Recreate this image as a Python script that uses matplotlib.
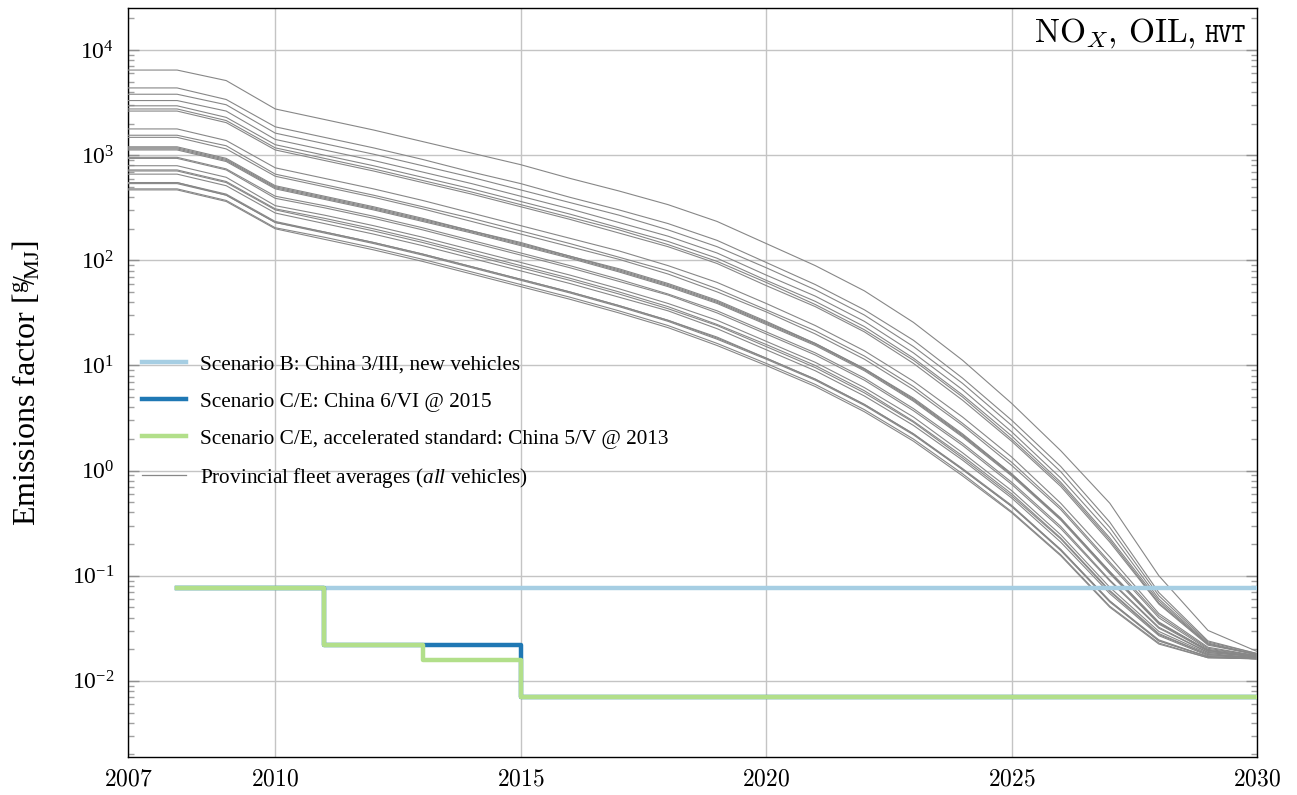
#!/usr/bin/env python
# -*- coding: utf-8 -*-
# NOx emission factors, oil, heavy vehicles: provincial fleet averages vs. scenario standards

import numpy as np
import matplotlib
matplotlib.use('Agg')
import matplotlib.pyplot as plt
from matplotlib.ticker import FixedLocator, FuncFormatter, NullFormatter, LogFormatterSciNotation
from matplotlib.lines import Line2D

plt.rcParams['font.family'] = ['Liberation Serif', 'DejaVu Serif']
plt.rcParams['mathtext.fontset'] = 'cm'
plt.rcParams['mathtext.rm'] = 'Liberation Serif'
plt.rcParams['mathtext.it'] = 'Liberation Serif:italic'
plt.rcParams['mathtext.bf'] = 'Liberation Serif:bold'

years = [2007, 2008, 2009, 2010, 2011, 2012, 2013, 2014, 2015, 2016, 2017, 2018,
         2019, 2020, 2021, 2022, 2023, 2024, 2025, 2026, 2027, 2028, 2029, 2030]

# provincial fleet averages, log10 of g/MJ, one list per province
ef_01 = [3.81, 3.81, 3.71, 3.44, 3.34, 3.24, 3.13, 3.02, 2.91, 2.78, 2.66, 2.53, 2.37, 2.16, 1.95, 1.71, 1.41, 1.05, 0.64, 0.19, -0.31, -1.00, -1.52, -1.72]
ef_02 = [3.64, 3.64, 3.53, 3.27, 3.17, 3.07, 2.96, 2.84, 2.73, 2.60, 2.48, 2.35, 2.19, 1.98, 1.77, 1.53, 1.24, 0.88, 0.48, 0.04, -0.49, -1.16, -1.62, -1.74]
ef_03 = [3.58, 3.58, 3.48, 3.21, 3.11, 3.01, 2.90, 2.79, 2.67, 2.55, 2.43, 2.29, 2.13, 1.93, 1.72, 1.48, 1.18, 0.83, 0.43, -0.01, -0.54, -1.19, -1.63, -1.74]
ef_04 = [3.52, 3.52, 3.42, 3.15, 3.05, 2.95, 2.84, 2.73, 2.61, 2.49, 2.36, 2.23, 2.07, 1.86, 1.66, 1.42, 1.12, 0.77, 0.37, -0.07, -0.59, -1.22, -1.64, -1.75]
ef_05 = [3.47, 3.47, 3.36, 3.10, 3.00, 2.90, 2.79, 2.68, 2.56, 2.44, 2.31, 2.18, 2.02, 1.81, 1.61, 1.37, 1.07, 0.72, 0.33, -0.11, -0.64, -1.24, -1.65, -1.75]
ef_06 = [3.44, 3.44, 3.33, 3.07, 2.97, 2.87, 2.76, 2.65, 2.53, 2.41, 2.29, 2.15, 1.99, 1.79, 1.58, 1.34, 1.05, 0.70, 0.30, -0.13, -0.66, -1.26, -1.65, -1.75]
ef_07 = [3.42, 3.42, 3.31, 3.05, 2.95, 2.85, 2.74, 2.63, 2.51, 2.39, 2.26, 2.13, 1.97, 1.76, 1.56, 1.32, 1.02, 0.67, 0.28, -0.15, -0.68, -1.27, -1.66, -1.75]
ef_08 = [3.25, 3.25, 3.14, 2.88, 2.78, 2.68, 2.57, 2.45, 2.33, 2.21, 2.09, 1.95, 1.79, 1.59, 1.38, 1.14, 0.85, 0.51, 0.13, -0.31, -0.82, -1.36, -1.68, -1.76]
ef_09 = [3.19, 3.19, 3.09, 2.82, 2.72, 2.62, 2.51, 2.40, 2.28, 2.16, 2.03, 1.90, 1.73, 1.53, 1.33, 1.09, 0.80, 0.45, 0.08, -0.35, -0.87, -1.38, -1.69, -1.76]
ef_10 = [3.17, 3.17, 3.06, 2.80, 2.70, 2.60, 2.49, 2.37, 2.25, 2.13, 2.01, 1.87, 1.70, 1.51, 1.30, 1.06, 0.77, 0.43, 0.05, -0.37, -0.89, -1.40, -1.70, -1.76]
ef_11 = [3.08, 3.08, 2.97, 2.71, 2.61, 2.51, 2.40, 2.28, 2.17, 2.04, 1.92, 1.78, 1.62, 1.42, 1.21, 0.97, 0.69, 0.35, -0.03, -0.45, -0.96, -1.44, -1.71, -1.77]
ef_12 = [3.07, 3.07, 2.96, 2.70, 2.60, 2.50, 2.39, 2.28, 2.16, 2.04, 1.91, 1.77, 1.61, 1.41, 1.21, 0.97, 0.68, 0.34, -0.03, -0.46, -0.96, -1.45, -1.71, -1.77]
ef_13 = [3.06, 3.06, 2.95, 2.69, 2.59, 2.49, 2.38, 2.27, 2.15, 2.03, 1.90, 1.76, 1.60, 1.40, 1.20, 0.96, 0.67, 0.33, -0.04, -0.46, -0.97, -1.45, -1.71, -1.77]
ef_14 = [3.05, 3.05, 2.94, 2.68, 2.58, 2.48, 2.37, 2.26, 2.14, 2.02, 1.89, 1.75, 1.59, 1.39, 1.19, 0.95, 0.66, 0.32, -0.05, -0.47, -0.98, -1.46, -1.72, -1.77]
ef_15 = [2.98, 2.98, 2.87, 2.61, 2.52, 2.42, 2.31, 2.19, 2.07, 1.95, 1.82, 1.68, 1.52, 1.32, 1.12, 0.88, 0.59, 0.26, -0.11, -0.53, -1.04, -1.49, -1.73, -1.77]
ef_16 = [2.97, 2.97, 2.86, 2.59, 2.50, 2.40, 2.29, 2.17, 2.05, 1.93, 1.80, 1.67, 1.50, 1.30, 1.10, 0.86, 0.57, 0.24, -0.13, -0.55, -1.05, -1.50, -1.73, -1.77]
ef_17 = [2.90, 2.90, 2.79, 2.52, 2.43, 2.33, 2.22, 2.10, 1.98, 1.86, 1.73, 1.59, 1.43, 1.23, 1.03, 0.79, 0.51, 0.17, -0.19, -0.61, -1.11, -1.53, -1.74, -1.78]
ef_18 = [2.86, 2.86, 2.75, 2.49, 2.40, 2.30, 2.19, 2.07, 1.95, 1.83, 1.70, 1.56, 1.39, 1.20, 1.00, 0.76, 0.47, 0.14, -0.22, -0.64, -1.14, -1.55, -1.75, -1.78]
ef_19 = [2.85, 2.85, 2.74, 2.48, 2.38, 2.28, 2.17, 2.05, 1.93, 1.81, 1.68, 1.54, 1.38, 1.18, 0.98, 0.74, 0.46, 0.12, -0.24, -0.65, -1.15, -1.56, -1.75, -1.78]
ef_20 = [2.82, 2.82, 2.71, 2.45, 2.35, 2.25, 2.14, 2.02, 1.90, 1.78, 1.65, 1.52, 1.35, 1.15, 0.95, 0.71, 0.43, 0.10, -0.26, -0.68, -1.17, -1.57, -1.76, -1.78]
ef_21 = [2.74, 2.74, 2.63, 2.37, 2.27, 2.17, 2.06, 1.94, 1.82, 1.70, 1.57, 1.43, 1.27, 1.07, 0.87, 0.63, 0.35, 0.02, -0.33, -0.75, -1.24, -1.61, -1.77, -1.79]
ef_22 = [2.74, 2.74, 2.62, 2.36, 2.27, 2.17, 2.06, 1.94, 1.82, 1.70, 1.57, 1.43, 1.26, 1.07, 0.87, 0.63, 0.35, 0.01, -0.34, -0.75, -1.24, -1.62, -1.77, -1.79]
ef_23 = [2.73, 2.73, 2.62, 2.36, 2.26, 2.16, 2.05, 1.93, 1.81, 1.69, 1.56, 1.42, 1.25, 1.06, 0.86, 0.62, 0.34, 0.01, -0.34, -0.76, -1.25, -1.62, -1.77, -1.79]
ef_24 = [2.68, 2.68, 2.57, 2.31, 2.22, 2.12, 2.01, 1.89, 1.77, 1.65, 1.52, 1.38, 1.21, 1.02, 0.82, 0.58, 0.30, -0.03, -0.39, -0.80, -1.29, -1.64, -1.78, -1.79]
ef_25 = [2.67, 2.67, 2.56, 2.30, 2.20, 2.10, 1.99, 1.87, 1.75, 1.63, 1.50, 1.36, 1.19, 1.00, 0.80, 0.56, 0.28, -0.05, -0.40, -0.81, -1.30, -1.65, -1.78, -1.79]

fleet = [ef_01, ef_02, ef_03, ef_04, ef_05, ef_06, ef_07, ef_08, ef_09, ef_10,
         ef_11, ef_12, ef_13, ef_14, ef_15, ef_16, ef_17, ef_18, ef_19, ef_20,
         ef_21, ef_22, ef_23, ef_24, ef_25]

# scenario standards for new vehicles (g/MJ), step changes
scen_b_years = [2008, 2030]
scen_b_ef = [0.077, 0.077]
scen_ce_years = [2008, 2011, 2015, 2030]
scen_ce_ef = [0.077, 0.022, 0.0071, 0.0071]
scen_acc_years = [2008, 2011, 2013, 2015, 2030]
scen_acc_ef = [0.077, 0.022, 0.0158, 0.0071, 0.0071]

labels = ['Scenario B: China 3/III, new vehicles',
          'Scenario C/E: China 6/VI @ 2015',
          'Scenario C/E, accelerated standard: China 5/V @ 2013',
          r'Provincial fleet averages ($\mathit{all}$ vehicles)']

x_ticks = [2007, 2010, 2015, 2020, 2025, 2030]
y_ticks = [1e-2, 1e-1, 1e0, 1e1, 1e2, 1e3, 1e4]

c_light = '#a6cee3'
c_dark = '#1f78b4'
c_green = '#b2df8a'
c_gray = '#878787'

fig = plt.figure(figsize=(12.97, 7.95), dpi=100)
ax = fig.add_axes([0.0987, 0.0478, 0.8705, 0.9421])

for row in fleet:
    ax.plot(years, np.power(10.0, row), color=c_gray, lw=0.8, zorder=3)

ax.plot(scen_b_years, scen_b_ef, color=c_light, lw=3.2, drawstyle='steps-post', zorder=4)
ax.plot(scen_ce_years, scen_ce_ef, color=c_dark, lw=3.2, drawstyle='steps-post', zorder=5)
ax.plot(scen_acc_years, scen_acc_ef, color=c_green, lw=3.2, drawstyle='steps-post', zorder=6)

ax.set_yscale('log')
ax.set_xlim(2007, 2030)
ax.set_ylim(10 ** -2.724, 10 ** 4.4)

ax.set_xticks(x_ticks)
ax.xaxis.set_major_formatter(FuncFormatter(lambda v, p: r'$%d$' % v))
ax.yaxis.set_major_locator(FixedLocator(y_ticks))
ax.yaxis.set_major_formatter(LogFormatterSciNotation())
minor = [m * 10.0 ** e for e in range(-3, 5) for m in range(2, 10)]
minor = [v for v in minor if 10 ** -2.724 < v < 10 ** 4.4]
ax.yaxis.set_minor_locator(FixedLocator(minor))
ax.yaxis.set_minor_formatter(NullFormatter())

ax.grid(True, which='major', color='#c4c4c4', lw=1.0, zorder=0)
ax.tick_params(axis='x', which='both', length=0, labelsize=17, pad=9)
ax.tick_params(axis='y', which='major', direction='in', length=8, width=1.0,
               color='#909090', left=True, right=True, labelsize=17, pad=10)
ax.tick_params(axis='y', which='minor', direction='in', length=4.5, width=1.0,
               color='#a0a0a0', left=True, right=True)
for sp in ax.spines.values():
    sp.set_linewidth(1.0)
    sp.set_color('black')

ylab = ax.set_ylabel(r'Emissions factor [$^{\mathrm{g}}\!/\!_{\mathrm{MJ}}$]', fontsize=23, labelpad=21)
ylab.set_math_fontfamily('custom')

# panel title, top right
t_hvt = ax.text(0.990, 0.955, 'HVT', ha='right', va='baseline', fontfamily='cmtt10',
                fontsize=19, transform=ax.transAxes, zorder=10)
ax.annotate(r'NO$_X$, OIL,', xy=(0, 0.955), xycoords=(t_hvt, 'axes fraction'),
            xytext=(-6, 0), textcoords='offset points', ha='right', va='baseline',
            fontfamily='cmr10', fontsize=24, zorder=10)

handles = [Line2D([], [], color=c_light, lw=3.2),
           Line2D([], [], color=c_dark, lw=3.2),
           Line2D([], [], color=c_green, lw=3.2),
           Line2D([], [], color=c_gray, lw=0.9)]
leg = ax.legend(handles, labels, loc='center left', bbox_to_anchor=(0.0, 0.447),
                frameon=False, fontsize=15.3, handlelength=2.1, handletextpad=0.66,
                labelspacing=0.8, borderaxespad=0.25)
for txt in leg.get_texts():
    txt.set_math_fontfamily('custom')

fig.savefig('out.png', dpi=100)
